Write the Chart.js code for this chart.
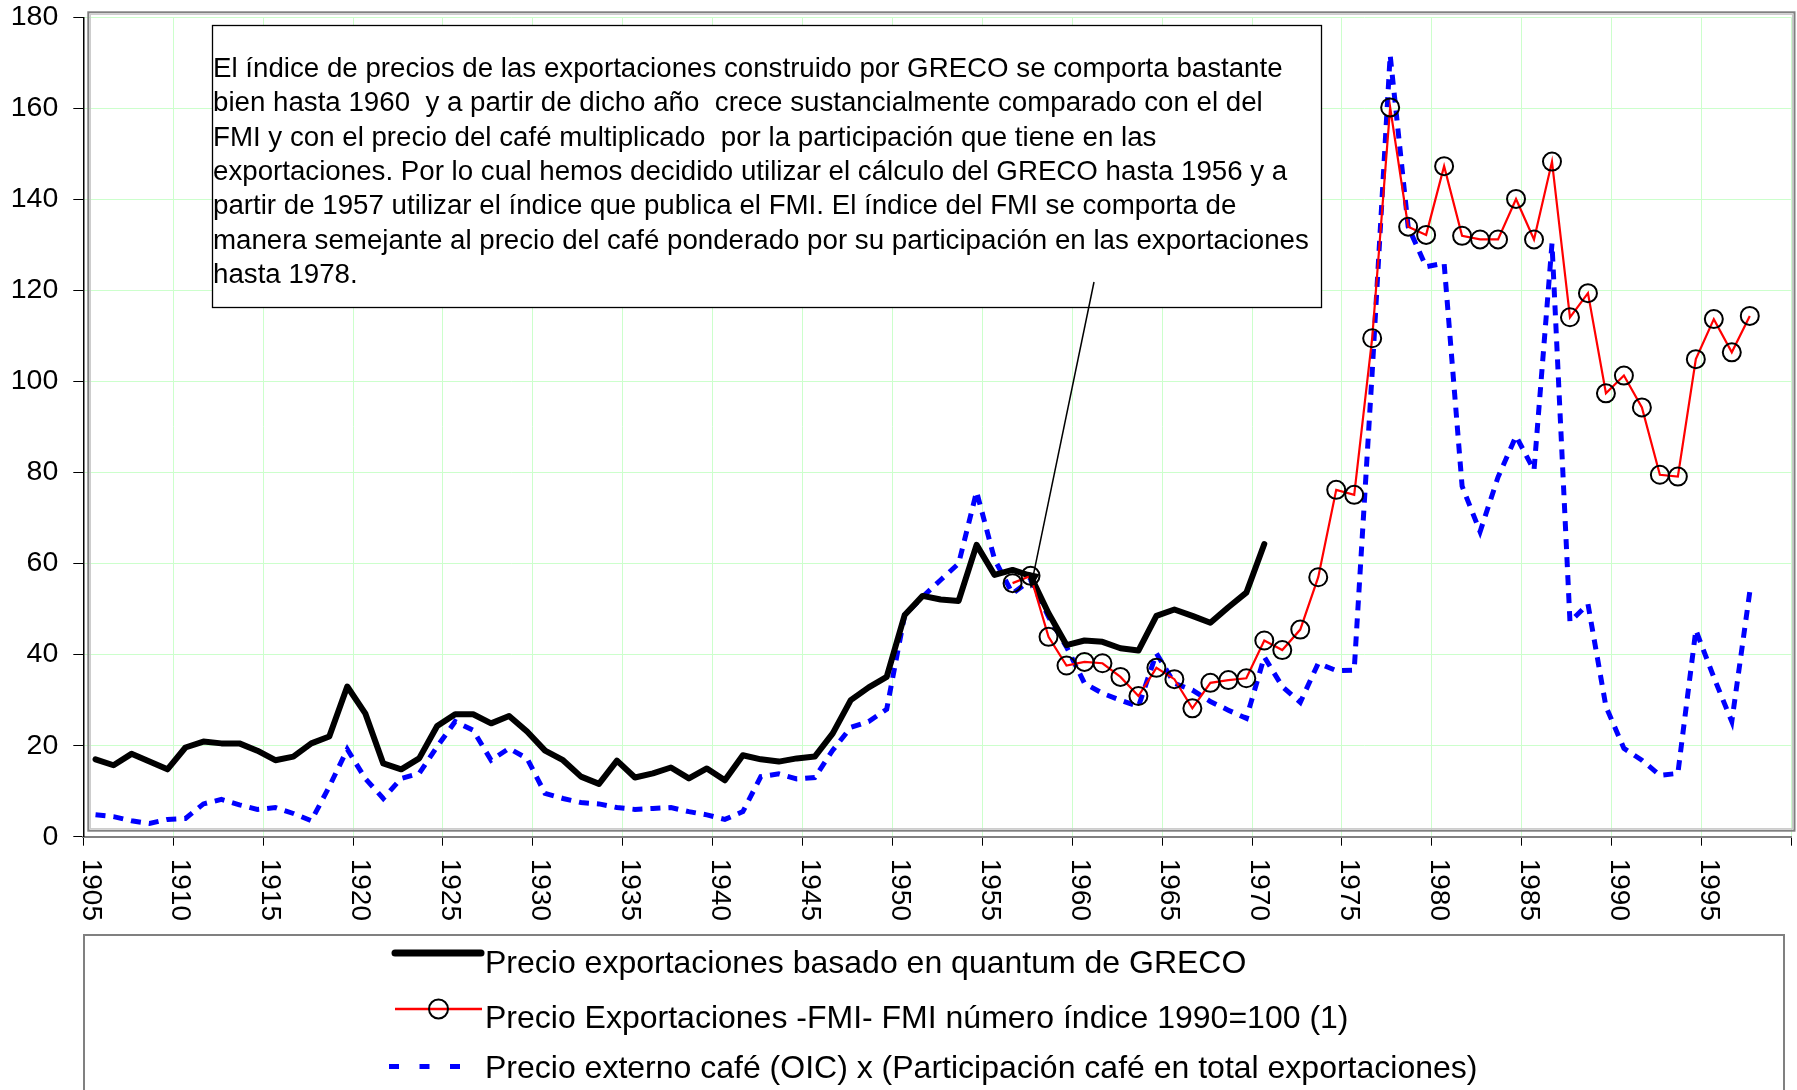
<!DOCTYPE html>
<html>
<head>
<meta charset="utf-8">
<script src="https://cdn.jsdelivr.net/npm/chart.js@4/dist/chart.umd.min.js"></script>
<style>
  html, body { margin: 0; padding: 0; background: #fff; }
  canvas { display: block; }
</style>
</head>
<body>
<canvas id="grafico" width="1797" height="1090"></canvas>
<script>
// Años de la serie
const years = [
  1905, 1906, 1907, 1908, 1909, 1910, 1911, 1912, 1913, 1914,
  1915, 1916, 1917, 1918, 1919, 1920, 1921, 1922, 1923, 1924,
  1925, 1926, 1927, 1928, 1929, 1930, 1931, 1932, 1933, 1934,
  1935, 1936, 1937, 1938, 1939, 1940, 1941, 1942, 1943, 1944,
  1945, 1946, 1947, 1948, 1949, 1950, 1951, 1952, 1953, 1954,
  1955, 1956, 1957, 1958, 1959, 1960, 1961, 1962, 1963, 1964,
  1965, 1966, 1967, 1968, 1969, 1970, 1971, 1972, 1973, 1974,
  1975, 1976, 1977, 1978, 1979, 1980, 1981, 1982, 1983, 1984,
  1985, 1986, 1987, 1988, 1989, 1990, 1991, 1992, 1993, 1994,
  1995, 1996, 1997
];

// Etiquetas del eje X
const tickLabels = [1905, 1910, 1915, 1920, 1925, 1930, 1935, 1940, 1945, 1950,
                    1955, 1960, 1965, 1970, 1975, 1980, 1985, 1990, 1995];
const yTicks = [0, 20, 40, 60, 80, 100, 120, 140, 160, 180];

// Precio exportaciones GRECO (1905-1970)
const greco = [
  17.0, 15.7, 18.2, 16.5, 14.8, 19.6, 20.9, 20.5, 20.5, 18.9,
  16.8, 17.6, 20.5, 22.0, 33.0, 27.1, 16.1, 14.8, 17.2, 24.3,
  26.9, 26.9, 24.9, 26.5, 23.1, 18.9, 16.8, 13.2, 11.6, 16.7,
  13.0, 13.9, 15.2, 12.8, 15.0, 12.4, 17.9, 17.0, 16.5, 17.2,
  17.6, 22.7, 30.0, 32.8, 35.1, 48.7, 52.9, 52.1, 51.8, 64.1,
  57.5, 58.6, 57.3, 49.1, 42.1, 43.1, 42.8, 41.4, 40.9, 48.5,
  49.9, 48.5, 47.0, 50.4, 53.6, 64.3
];

// Precio exportaciones FMI (1956-1997)
const fmi = [
  55.7, 57.3, 43.9, 37.6, 38.4, 38.1, 35.1, 30.9, 37.1, 34.6,
  28.2, 33.8, 34.4, 34.8, 43.1, 41.0, 45.5, 57.0, 76.2, 75.1,
  109.5, 160.2, 134.0, 132.2, 147.3, 132.0, 131.2, 131.2, 140.1, 131.2,
  148.3, 114.1, 119.4, 97.4, 101.3, 94.3, 79.5, 79.1, 104.9, 113.7,
  106.4, 114.4
];

// Precio café OIC x participación (1905-1997)
const cafe = [
  4.8, 4.4, 3.5, 2.9, 3.8, 4.0, 7.2, 8.2, 7.0, 6.0,
  6.4, 5.1, 3.5, 11.0, 19.2, 12.8, 8.4, 12.8, 13.9, 19.8,
  25.3, 23.4, 16.8, 19.4, 17.2, 9.5, 8.4, 7.5, 7.2, 6.4,
  6.0, 6.2, 6.4, 5.5, 4.8, 3.8, 5.5, 13.2, 13.8, 12.7,
  13.0, 19.0, 24.0, 25.3, 28.0, 48.7, 52.7, 56.4, 60.0, 75.8,
  60.9, 53.4, 56.4, 48.3, 41.7, 33.7, 31.5, 30.0, 28.6, 40.3,
  33.7, 32.2, 29.7, 27.8, 26.0, 39.5, 33.0, 29.5, 38.1, 36.5,
  36.6, 102.0, 171.7, 134.0, 125.2, 126.0, 77.0, 67.0, 79.0, 88.0,
  80.5, 130.3, 47.2, 51.1, 28.6, 19.4, 16.8, 13.5, 13.9, 45.4,
  35.0, 25.3, 53.8
];

const seriesNames = [
  'Precio exportaciones basado en quantum de GRECO',
  'Precio Exportaciones -FMI- FMI número índice 1990=100 (1)',
  'Precio externo café (OIC) x (Participación café en total exportaciones)'
];

const notaLineas = [
  'El índice de precios de las exportaciones construido por GRECO se comporta bastante',
  'bien hasta 1960  y a partir de dicho año  crece sustancialmente comparado con el del',
  'FMI y con el precio del café multiplicado  por la participación que tiene en las',
  'exportaciones. Por lo cual hemos decidido utilizar el cálculo del GRECO hasta 1956 y a',
  'partir de 1957 utilizar el índice que publica el FMI. El índice del FMI se comporta de',
  'manera semejante al precio del café ponderado por su participación en las exportaciones',
  'hasta 1978.'
];
// punto al que apunta la flecha de la nota
const flechaAnio = 1957;
const flechaValor = 54.5;

const FONT = "'Liberation Sans', Arial, sans-serif";
const desfase = 0.68; // Excel deja cada punto a ~0.7 de su categoría

function puntos(valores, desde) {
  const i0 = years.indexOf(desde);
  return valores.map((v, i) => ({ x: years[i0 + i], y: v }));
}

const extras = {
  id: 'extras',
  beforeDatasetsDraw(chart) {
    const { ctx, chartArea: a } = chart;
    // marco gris doble del área de trazado
    ctx.save();
    ctx.strokeStyle = '#808080';
    ctx.lineWidth = 2;
    ctx.strokeRect(a.left + 5, a.top - 5, a.right - a.left - 2, a.bottom - a.top - 1);
    ctx.strokeStyle = '#c8c8c8';
    ctx.lineWidth = 1.2;
    ctx.strokeRect(a.left + 7, a.top - 3, a.right - a.left - 6, a.bottom - a.top - 5);
    ctx.restore();
  },
  afterDraw(chart) {
    const { ctx, chartArea: a } = chart;
    const sx = chart.scales.x, sy = chart.scales.y;
    ctx.save();

    // etiquetas del eje X giradas (se leen de arriba hacia abajo)
    ctx.font = '28px ' + FONT;
    ctx.fillStyle = '#000';
    ctx.textAlign = 'left';
    ctx.textBaseline = 'middle';
    tickLabels.forEach(t => {
      const px = sx.getPixelForValue(t - desfase) + 7;
      ctx.save();
      ctx.translate(px, a.bottom + 22);
      ctx.rotate(Math.PI / 2);
      ctx.fillText(String(t), 0, 0);
      ctx.restore();
    });

    // cuadro de la nota
    ctx.fillStyle = '#fff';
    ctx.fillRect(212, 25, 1109, 282);
    ctx.strokeStyle = '#000';
    ctx.lineWidth = 1.3;
    ctx.strokeRect(212.5, 25.5, 1109, 282);
    ctx.fillStyle = '#000';
    ctx.font = '27.7px ' + FONT;
    ctx.textBaseline = 'alphabetic';
    notaLineas.forEach((l, i) => ctx.fillText(l, 213, 77 + i * 34.3));

    // flecha
    const x0 = 1094, y0 = 282;
    const x1 = sx.getPixelForValue(flechaAnio), y1 = sy.getPixelForValue(flechaValor);
    const ang = Math.atan2(y1 - y0, x1 - x0);
    ctx.strokeStyle = '#000';
    ctx.lineWidth = 1.5;
    ctx.beginPath();
    ctx.moveTo(x0, y0);
    ctx.lineTo(x1 - 12 * Math.cos(ang), y1 - 12 * Math.sin(ang));
    ctx.stroke();
    ctx.beginPath();
    ctx.moveTo(x1, y1);
    ctx.lineTo(x1 - 16 * Math.cos(ang) + 6 * Math.sin(ang), y1 - 16 * Math.sin(ang) - 6 * Math.cos(ang));
    ctx.lineTo(x1 - 16 * Math.cos(ang) - 6 * Math.sin(ang), y1 - 16 * Math.sin(ang) + 6 * Math.cos(ang));
    ctx.closePath();
    ctx.fillStyle = '#000';
    ctx.fill();

    // leyenda
    const dsG = chart.data.datasets[1], dsF = chart.data.datasets[0], dsC = chart.data.datasets[2];
    ctx.fillStyle = '#fff';
    ctx.fillRect(84, 935, 1700, 160);
    ctx.strokeStyle = '#808080';
    ctx.lineWidth = 2;
    ctx.beginPath();
    ctx.moveTo(84, 1095); ctx.lineTo(84, 935); ctx.lineTo(1784, 935); ctx.lineTo(1784, 1095);
    ctx.stroke();

    ctx.lineCap = 'round';
    ctx.strokeStyle = dsG.borderColor;
    ctx.lineWidth = 7;
    ctx.beginPath(); ctx.moveTo(395, 953); ctx.lineTo(481, 953); ctx.stroke();

    ctx.lineCap = 'butt';
    ctx.strokeStyle = dsF.borderColor;
    ctx.lineWidth = 2.5;
    ctx.beginPath(); ctx.moveTo(395, 1009); ctx.lineTo(482, 1009); ctx.stroke();
    ctx.strokeStyle = dsF.pointBorderColor;
    ctx.lineWidth = 2;
    ctx.beginPath(); ctx.arc(438.5, 1009, 9.5, 0, Math.PI * 2); ctx.stroke();

    ctx.strokeStyle = dsC.borderColor;
    ctx.lineWidth = 5;
    ctx.setLineDash([10, 20.5]);
    ctx.beginPath(); ctx.moveTo(389, 1066.5); ctx.lineTo(462, 1066.5); ctx.stroke();
    ctx.setLineDash([]);

    ctx.fillStyle = '#000';
    ctx.font = '32px ' + FONT;
    [973, 1027.5, 1078].forEach((yb, i) => ctx.fillText(seriesNames[i], 485, yb));

    ctx.restore();
  }
};

const grid = '#ccffcc';

// sin relleno automático de Chart.js: el área se fija con layout.padding y afterFit
function sinRelleno(s) {
  s.paddingTop = 0; s.paddingBottom = 0; s.paddingLeft = 0; s.paddingRight = 0;
}

new Chart(document.getElementById('grafico'), {
  type: 'line',
  data: {
    datasets: [
      {
        label: seriesNames[1],
        data: puntos(fmi, 1956),
        borderColor: '#ff0000',
        borderWidth: 2.2,
        pointRadius: 9,
        pointBorderWidth: 2,
        pointBorderColor: '#000',
        pointBackgroundColor: 'rgba(0,0,0,0)',
        tension: 0
      },
      {
        label: seriesNames[0],
        data: puntos(greco, 1905),
        borderColor: '#000',
        borderWidth: 6,
        borderJoinStyle: 'round',
        borderCapStyle: 'round',
        pointRadius: 0,
        tension: 0
      },
      {
        label: seriesNames[2],
        data: puntos(cafe, 1905),
        borderColor: '#0000ff',
        borderWidth: 5,
        borderDash: [10, 8],
        pointRadius: 0,
        tension: 0
      }
    ]
  },
  options: {
    responsive: false,
    animation: false,
    layout: { autoPadding: false, padding: { top: 17.3, right: 5.5, left: 0, bottom: 0 } },
    plugins: {
      legend: { display: false },
      tooltip: { enabled: false },
      title: { display: false }
    },
    scales: {
      x: {
        type: 'linear',
        min: years[0] - desfase,
        max: 2000 - desfase,
        afterBuildTicks: s => {
          s.ticks = tickLabels.concat([2000]).map(t => ({ value: t - desfase }));
        },
        afterFit: s => { s.height = 253.3; sinRelleno(s); },
        ticks: { display: false },
        grid: { color: grid, lineWidth: 1, tickColor: '#000', tickLength: 9 },
        border: { color: '#808080', width: 2 }
      },
      y: {
        min: 0,
        max: 180,
        afterBuildTicks: s => { s.ticks = yTicks.map(v => ({ value: v })); },
        afterFit: s => { s.width = 83.3; sinRelleno(s); },
        ticks: { font: { family: FONT, size: 28.5 }, color: '#000', padding: 15 },
        grid: { color: grid, lineWidth: 1, tickColor: '#000', tickLength: 10 },
        border: { color: '#000', width: 1.5 }
      }
    }
  },
  plugins: [extras]
});
</script>
</body>
</html>
